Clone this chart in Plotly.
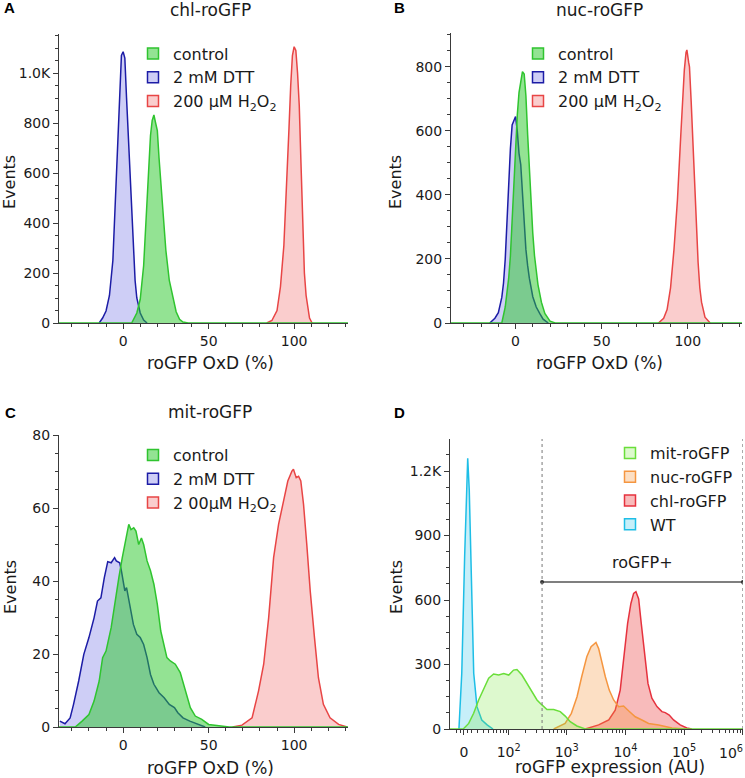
import numpy as np
import plotly.graph_objects as go

FIG_W, FIG_H = 745, 778

# ---------------- data ----------------
# A: chl-roGFP, roGFP OxD (%) vs events
a_ctrl_x = [5, 8, 10, 12, 14, 16, 17, 18, 19, 20, 21, 22, 23, 25, 27, 29, 31, 33, 35, 38]
a_ctrl_y = [0, 40, 95, 230, 500, 750, 810, 832, 800, 770, 660, 560, 470, 290, 170, 100, 45, 15, 4, 0]
a_dtt_x = [-14, -12, -10, -8, -6, -4, -3, -2, -1, 0, 1, 2, 3, 4, 5, 6, 7, 8, 10, 12, 14]
a_dtt_y = [0, 20, 48, 110, 250, 600, 740, 900, 1070, 1085, 1060, 900, 750, 620, 500, 330, 170, 100, 40, 12, 0]
a_h2o2_x = [84, 87, 90, 92, 94, 96, 97, 98, 99, 100, 101, 102, 103, 104, 105, 106, 107, 108, 109, 110.5]
a_h2o2_y = [0, 10, 50, 145, 310, 590, 780, 950, 1070, 1105, 1090, 1000, 870, 640, 410, 200, 110, 55, 20, 0]

# B: nuc-roGFP
b_ctrl_x = [-8, -6, -5, -4, -3, -2, -1, 0, 1, 2, 3, 4, 5, 6, 7, 8, 9, 10, 11, 12, 13, 15, 17, 20, 23]
b_ctrl_y = [0, 50, 90, 140, 210, 320, 440, 560, 650, 720, 760, 785, 778, 710, 590, 470, 370, 280, 210, 160, 120, 65, 30, 6, 0]
b_dtt_x = [-15, -12, -10, -8, -7, -6, -5, -4, -3, -2, -1, 0, 1, 2, 3, 4, 5, 6, 7, 8, 10, 12, 14, 16, 19]
b_dtt_y = [0, 15, 32, 80, 125, 200, 315, 450, 545, 619, 632, 645, 600, 530, 495, 400, 290, 230, 180, 140, 82, 50, 30, 12, 0]
b_h2o2_x = [83, 86, 88, 90, 92, 94, 96, 98, 99, 99.5, 100.5, 101, 102, 103, 104, 105, 106, 107, 108, 110, 113]
b_h2o2_y = [0, 15, 42, 110, 230, 384, 592, 790, 845, 853, 815, 800, 690, 560, 425, 300, 190, 110, 65, 18, 0]

# C: mit-roGFP
c_ctrl_x = [-28, -24, -20, -17, -14, -12, -10, -7, -4.5, -2.5, -0.5, 1.3, 3.3, 4.6, 6.2, 7.5, 9.1, 10.7, 12, 14,
            16, 18, 20, 22, 24, 25.6, 27.6, 30.5, 33.4, 36.3, 39.3, 42.2, 46, 50, 56, 62]
c_ctrl_y = [0, 1.6, 3.4, 7.1, 12.6, 19.0, 20.8, 27.2, 35.4, 40.9, 46.4, 50.9, 55.5, 54.1, 54.6, 53.7, 50.0, 51.8, 50.0, 45.5,
            42.8, 39.1, 33.6, 26.3, 22.6, 19.0, 18.1, 17.2, 14.9, 9.9, 5.3, 3.0, 2.1, 0.7, 0.3, 0]
c_dtt_x = [-37, -34, -31, -29, -26, -23, -20, -17, -15, -13, -11, -9, -7, -5, -4, -2, -1, 1, 2, 4,
           6, 8, 10, 12, 14, 16, 18, 21, 24, 27, 30, 32, 35, 39, 44, 48]
c_dtt_y = [1.6, 0.9, 2.5, 6.2, 12.6, 19.9, 24.5, 29.9, 34.5, 35.4, 40.9, 45.3, 45.0, 46.4, 45.5, 45.0, 42.8, 37.3, 38.2, 33.6,
           28.1, 25.4, 24.5, 22.6, 19.0, 14.4, 11.7, 9.4, 8.0, 6.2, 5.3, 3.9, 2.5, 1.6, 0.7, 0]
c_h2o2_x = [64, 69.5, 75.4, 79.2, 82.2, 85.1, 88, 90.9, 93.8, 96.3, 98.7, 99.6, 101.2, 102.6, 103.9, 105.5, 107.4,
            109.4, 111.9, 114.2, 117.1, 121, 126, 131]
c_h2o2_y = [0, 0.5, 2.5, 9.9, 17.2, 29.9, 46.4, 55.5, 61.9, 67.4, 70.1, 70.6, 68.3, 68.7, 67.4, 61.0, 50.0,
            37.3, 24.5, 13.5, 6.2, 2.5, 0.7, 0]

# D: roGFP expression (AU), biexponential axis
d_mit_x = [-1, 6.7, 13.9, 21.7, 30.4, 40.2, 51.4, 65, 81, 100, 122, 140, 171, 209, 255, 311, 378, 461, 599, 776,
           943, 1147, 1492, 2070]
d_mit_y = [0, 26, 73, 135, 189, 236, 256, 251, 258, 251, 274, 277, 251, 212, 174, 135, 112, 91, 91, 81,
           60, 34, 14, 0]
d_nuc_x = [600, 940, 1200, 1500, 1800, 2200, 2600, 3150, 3500, 4000, 4550, 5300, 6300, 7650, 9300, 11300, 14700,
           19100, 24800, 36700, 62000, 104000]
d_nuc_y = [0, 26, 73, 150, 243, 336, 383, 403, 374, 305, 243, 181, 135, 104, 107, 85, 57, 42, 26, 19, 5, 0]
d_chl_x = [2070, 3500, 5200, 6700, 8150, 9550, 10900, 12400, 13800, 15100, 16800, 18600, 21200, 24200, 28200,
           34400, 41800, 47600, 55700, 66000, 85500, 111000, 135000]
d_chl_y = [0, 19, 42, 88, 181, 336, 491, 584, 631, 639, 605, 491, 336, 212, 143, 104, 81, 76, 65, 42, 19, 5, 0]
d_wt_x = [-7, -3, 1, 3.3, 5.3, 7.5, 10.5, 14, 19, 27, 37, 50]
d_wt_y = [0, 259, 801, 1112, 1259, 1112, 647, 259, 104, 42, 19, 0]

d_gate_au = [380, 1e6]
d_gate_events = 684

oxd_ticks = [0, 50, 100]
a_yticks = [0, 200, 400, 600, 800, 1000]
a_yticktext = ["0", "200", "400", "600", "800", "1.0K"]
b_yticks = [0, 200, 400, 600, 800]
c_yticks = [0, 20, 40, 60, 80]
d_yticks = [0, 300, 600, 900, 1200]
d_yticktext = ["0", "300", "600", "900", "1.2K"]
d_xticks_au = [0, 1e2, 1e3, 1e4, 1e5, 1e6]
d_xticktext = ["0", "10<sup>2</sup>", "10<sup>3</sup>", "10<sup>4</sup>", "10<sup>5</sup>", "10<sup>6</sup>"]

# ---------------- helpers ----------------
WLIN = 10 ** 1.25


def biex(v):
    # simple arcsinh (logicle-like) display transform
    v = np.asarray(v, dtype=float)
    return np.log10(WLIN) + np.arcsinh(v / (2 * WLIN)) / np.log(10)


def px(x):
    return x / FIG_W


def py(y):
    return 1 - y / FIG_H


OXD_RANGE = [-37.5, 131.5]
D_RANGE = [1.013, float(biex(1e6)) + 0.002]

CTRL = ("#2fc42f", "rgba(40,200,40,0.5)")
DTT = ("#1c1ca6", "rgba(60,60,220,0.25)")
H2O2 = ("#e84545", "rgba(240,90,90,0.3)")
MIT = ("#6ade3a", "rgba(120,230,60,0.25)")
NUC = ("#f59640", "rgba(245,150,60,0.3)")
CHL = ("#e6323e", "rgba(235,60,60,0.35)")
WT = ("#1ebee6", "rgba(30,190,230,0.25)")

fig = go.Figure()


def hist(x, y, colors, ax, pad=None):
    x = list(x)
    y = list(y)
    if pad is not None:
        x = [pad[0]] + x + [pad[1]]
        y = [0] + y + [0]
    fig.add_trace(go.Scatter(x=x, y=y, mode="lines", fill="tozeroy",
                             line=dict(color=colors[0], width=1.5),
                             fillcolor=colors[1], showlegend=False,
                             hoverinfo="skip", xaxis="x" + ax, yaxis="y" + ax))


def key(name, colors, ax, legend):
    fig.add_trace(go.Scatter(x=[None], y=[None], mode="markers", name=name,
                             marker=dict(symbol="square", size=11, color=colors[1],
                                         line=dict(color=colors[0], width=1.5)),
                             xaxis="x" + ax, yaxis="y" + ax, legend=legend))


# A
hist(a_h2o2_x, a_h2o2_y, H2O2, "")
hist(a_dtt_x, a_dtt_y, DTT, "")
hist(a_ctrl_x, a_ctrl_y, CTRL, "", pad=OXD_RANGE)
# B
hist(b_h2o2_x, b_h2o2_y, H2O2, "2")
hist(b_dtt_x, b_dtt_y, DTT, "2")
hist(b_ctrl_x, b_ctrl_y, CTRL, "2", pad=OXD_RANGE)
# C
hist(c_h2o2_x, c_h2o2_y, H2O2, "3")
hist(c_dtt_x, c_dtt_y, DTT, "3")
hist(c_ctrl_x, c_ctrl_y, CTRL, "3", pad=OXD_RANGE)
# D
hist(biex(d_wt_x), d_wt_y, WT, "4")
hist(biex(d_chl_x), d_chl_y, CHL, "4")
hist(biex(d_nuc_x), d_nuc_y, NUC, "4")
hist(biex(d_mit_x), d_mit_y, MIT, "4", pad=D_RANGE)

# gate
gx = biex(d_gate_au)
fig.add_trace(go.Scatter(x=gx, y=[d_gate_events] * 2, mode="lines+markers",
                         line=dict(color="#555555", width=1.5),
                         marker=dict(color="#333333", size=4),
                         showlegend=False, hoverinfo="skip", xaxis="x4", yaxis="y4"))
for gv in gx:
    fig.add_shape(type="line", xref="x4", yref="y4 domain", x0=gv, x1=gv, y0=0, y1=1,
                  line=dict(color="#777777", width=1, dash="dot"))
fig.add_annotation(x=float(np.mean(gx)), y=d_gate_events, xref="x4", yref="y4",
                   text="roGFP+", showarrow=False, yshift=19, xanchor="center", yanchor="middle",
                   font=dict(size=16))

# legends
for ax, leg, h2 in [("", "legend", "200 µM H<sub>2</sub>O<sub>2</sub>"),
                    ("2", "legend2", "200 µM H<sub>2</sub>O<sub>2</sub>"),
                    ("3", "legend3", "2 00µM H<sub>2</sub>O<sub>2</sub>")]:
    key("control", CTRL, ax, leg)
    key("2 mM DTT", DTT, ax, leg)
    key(h2, H2O2, ax, leg)
key("mit-roGFP", MIT, "4", "legend4")
key("nuc-roGFP", NUC, "4", "legend4")
key("chl-roGFP", CHL, "4", "legend4")
key("WT", WT, "4", "legend4")

AXC = "#3a3a3a"


def xax(dom, rng, anchor, **kw):
    d = dict(domain=[px(dom[0]), px(dom[1])], range=rng, anchor=anchor,
             showline=True, linecolor=AXC, linewidth=1, ticks="outside", ticklen=5,
             tickcolor=AXC, showgrid=False, zeroline=False,
             tickfont=dict(size=14, color="#1a1a1a"))
    d.update(kw)
    return d


def yax(dom, rng, anchor, **kw):
    d = dict(domain=[py(dom[1]), py(dom[0])], range=rng, anchor=anchor,
             showline=True, linecolor=AXC, linewidth=1, ticks="outside", ticklen=5,
             tickcolor=AXC, showgrid=False, zeroline=False,
             tickfont=dict(size=14, color="#1a1a1a"))
    d.update(kw)
    return d


oxd_minor = dict(dtick=10, tick0=0, ticks="outside", ticklen=3, tickcolor=AXC)
d_minor_au = [-10, -5, 5, 10] + [m * 10 ** k for k in range(1, 6) for m in range(2, 10)]

# the 10^6 label sits at the right edge; it is drawn right-aligned as an annotation
d_xlabels = d_xticktext[:-1] + [""]

leg_common = dict(font=dict(size=16, color="#1a1a1a"), bgcolor="rgba(0,0,0,0)",
                  xanchor="left", yanchor="top", tracegroupgap=0)

fig.update_layout(
    width=FIG_W, height=FIG_H, margin=dict(l=0, r=0, t=0, b=0, autoexpand=False),
    paper_bgcolor="white", plot_bgcolor="white",
    font=dict(family="DejaVu Sans", color="#1a1a1a"),
    xaxis=xax((59, 348), OXD_RANGE, "y", tickvals=oxd_ticks, minor=oxd_minor),
    yaxis=yax((34, 323), [0, 1156], "x", tickvals=a_yticks, ticktext=a_yticktext,
              minor=dict(dtick=50, tick0=0, ticks="outside", ticklen=3, tickcolor=AXC)),
    xaxis2=xax((451, 742), OXD_RANGE, "y2", tickvals=oxd_ticks, minor=oxd_minor),
    yaxis2=yax((33, 323), [0, 906], "x2", tickvals=b_yticks,
               minor=dict(dtick=50, tick0=0, ticks="outside", ticklen=3, tickcolor=AXC)),
    xaxis3=xax((59, 348), OXD_RANGE, "y3", tickvals=oxd_ticks, minor=oxd_minor),
    yaxis3=yax((435, 727), [0, 80], "x3", tickvals=c_yticks,
               minor=dict(dtick=5, tick0=0, ticks="outside", ticklen=3, tickcolor=AXC)),
    xaxis4=xax((450, 743), D_RANGE, "y4", tickvals=biex(d_xticks_au), ticktext=d_xlabels,
               ticklabelstandoff=5,
               minor=dict(tickmode="array", tickvals=biex(d_minor_au), ticks="outside",
                          ticklen=3, tickcolor=AXC)),
    yaxis4=yax((439, 729), [0, 1349], "x4", tickvals=d_yticks, ticktext=d_yticktext,
               minor=dict(dtick=75, tick0=0, ticks="outside", ticklen=3, tickcolor=AXC)),
    legend=dict(x=px(133), y=py(36.5), **leg_common),
    legend2=dict(x=px(518), y=py(36.5), **leg_common),
    legend3=dict(x=px(133), y=py(438), **leg_common),
    legend4=dict(x=px(610), y=py(436), **leg_common),
)

fig.add_annotation(x=1, y=py(752), xref="paper", yref="paper", text=d_xticktext[-1],
                   xanchor="right", yanchor="middle", showarrow=False,
                   font=dict(size=14, color="#1a1a1a"))

# panel letters, titles, axis titles
for txt, x, y in [("A", 2, 8), ("B", 392, 8), ("C", 3, 412), ("D", 392, 412)]:
    fig.add_annotation(x=px(x), y=py(y), xref="paper", yref="paper", text="<b>%s</b>" % txt,
                       xanchor="left", yanchor="middle", showarrow=False,
                       font=dict(family="Liberation Sans", size=15, color="black"))
for txt, x, y in [("chl-roGFP", 210, 10), ("nuc-roGFP", 599, 10), ("mit-roGFP", 210, 412)]:
    fig.add_annotation(x=px(x), y=py(y), xref="paper", yref="paper", text=txt,
                       xanchor="center", yanchor="middle", showarrow=False, font=dict(size=17))
for txt, x, y in [("roGFP OxD (%)", 210, 363), ("roGFP OxD (%)", 599, 363),
                  ("roGFP OxD (%)", 210, 768), ("roGFP expression (AU)", 610, 767)]:
    fig.add_annotation(x=px(x), y=py(y), xref="paper", yref="paper", text=txt,
                       xanchor="center", yanchor="middle", showarrow=False, font=dict(size=17))
for x, y in [(10, 182), (396, 182), (10, 587), (396, 587)]:
    fig.add_annotation(x=px(x), y=py(y), xref="paper", yref="paper", text="Events",
                       xanchor="center", yanchor="middle", textangle=-90, showarrow=False,
                       font=dict(size=16))

fig.write_html("out.html", config={"displayModeBar": False},
               post_script="document.body.style.margin='0px';")
